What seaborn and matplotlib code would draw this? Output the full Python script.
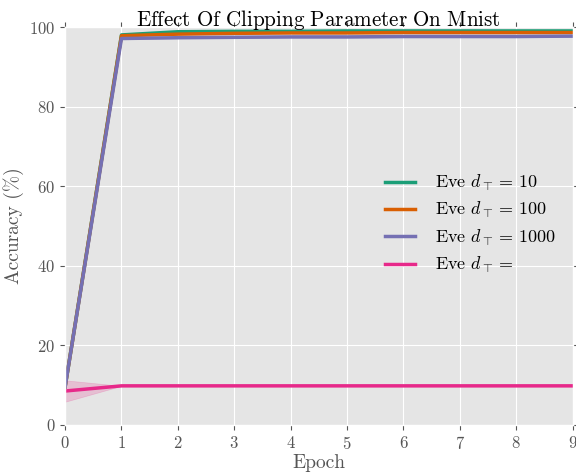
import numpy as np
import pandas as pd
import matplotlib
matplotlib.use("Agg")
import matplotlib.pyplot as plt
import seaborn as sns

epochs = [0, 1, 2, 3, 4, 5, 6, 7, 8, 9]
labels = [r"Eve $d_\top = \,10$", r"Eve $d_\top = \,100$", r"Eve $d_\top = \,1000$", r"Eve $d_\top = $"]
colors = ["#1b9e77", "#d95f02", "#7570b3", "#e7298a"]

# mean accuracy per epoch for each setting
mean_10 = [9.5, 98.1, 98.9, 99.0, 99.0, 99.1, 99.1, 99.1, 99.1, 99.1]
mean_100 = [9.5, 97.9, 98.3, 98.5, 98.6, 98.6, 98.7, 98.7, 98.7, 98.7]
mean_1000 = [9.5, 97.2, 97.4, 97.5, 97.6, 97.6, 97.7, 97.7, 97.7, 97.8]
mean_inf = [8.5, 9.8, 9.8, 9.8, 9.8, 9.8, 9.8, 9.8, 9.8, 9.8]
# half-width of the run-to-run spread
spread_10 = [0.3, 0.1, 0.1, 0.1, 0.1, 0.1, 0.1, 0.1, 0.1, 0.1]
spread_100 = [0.3, 0.1, 0.1, 0.1, 0.1, 0.1, 0.1, 0.1, 0.1, 0.1]
spread_1000 = [0.3, 0.2, 0.2, 0.2, 0.2, 0.2, 0.2, 0.2, 0.2, 0.2]
spread_inf = [2.7, 0.0, 0.0, 0.0, 0.0, 0.0, 0.0, 0.0, 0.0, 0.0]

rows = []
for lab, m, s in zip(labels, [mean_10, mean_100, mean_1000, mean_inf],
                     [spread_10, spread_100, spread_1000, spread_inf]):
    for e, mv, sv in zip(epochs, m, s):
        for k in (-1, 0, 1):
            rows.append({"Epoch": e, "Accuracy": mv + k * sv, "Model": lab})
df = pd.DataFrame(rows)

plt.style.use("ggplot")
plt.rcParams.update({
    "font.family": "serif",
    "font.serif": ["cmr10"],
    "mathtext.fontset": "cm",
    "axes.formatter.use_mathtext": True,
    "axes.unicode_minus": False,
})

fig, ax = plt.subplots(figsize=(5.76, 4.72), dpi=100)
sns.lineplot(data=df, x="Epoch", y="Accuracy", hue="Model", hue_order=labels,
             palette=colors, errorbar=("pi", 100), linewidth=2.5, ax=ax)

ax.set_xlim(0, 9)
ax.set_ylim(0, 100)
ax.set_xticks(epochs)
ax.set_yticks([0, 20, 40, 60, 80, 100])
ax.tick_params(top=True, right=True, labelsize=12, colors="#555555", direction="out")
ax.set_xlabel("Epoch", fontsize=14, color="#555555", labelpad=2)
ax.set_ylabel("Accuracy (%)", fontsize=14, color="#555555")
ax.set_title(r"$\mathrm{Effect\ Of\ Clipping\ Parameter\ On\ Mnist}$", fontsize=15.2,
             color="black", pad=1)

leg = ax.legend(loc="center right", bbox_to_anchor=(1.0, 0.505), frameon=False, fontsize=13,
                handlelength=1.67, handletextpad=1.1, labelspacing=0.41)
for line in leg.get_lines():
    line.set_linewidth(2.5)

fig.subplots_adjust(left=0.113, right=0.994, top=0.942, bottom=0.1)
fig.savefig("out.png", dpi=100)
